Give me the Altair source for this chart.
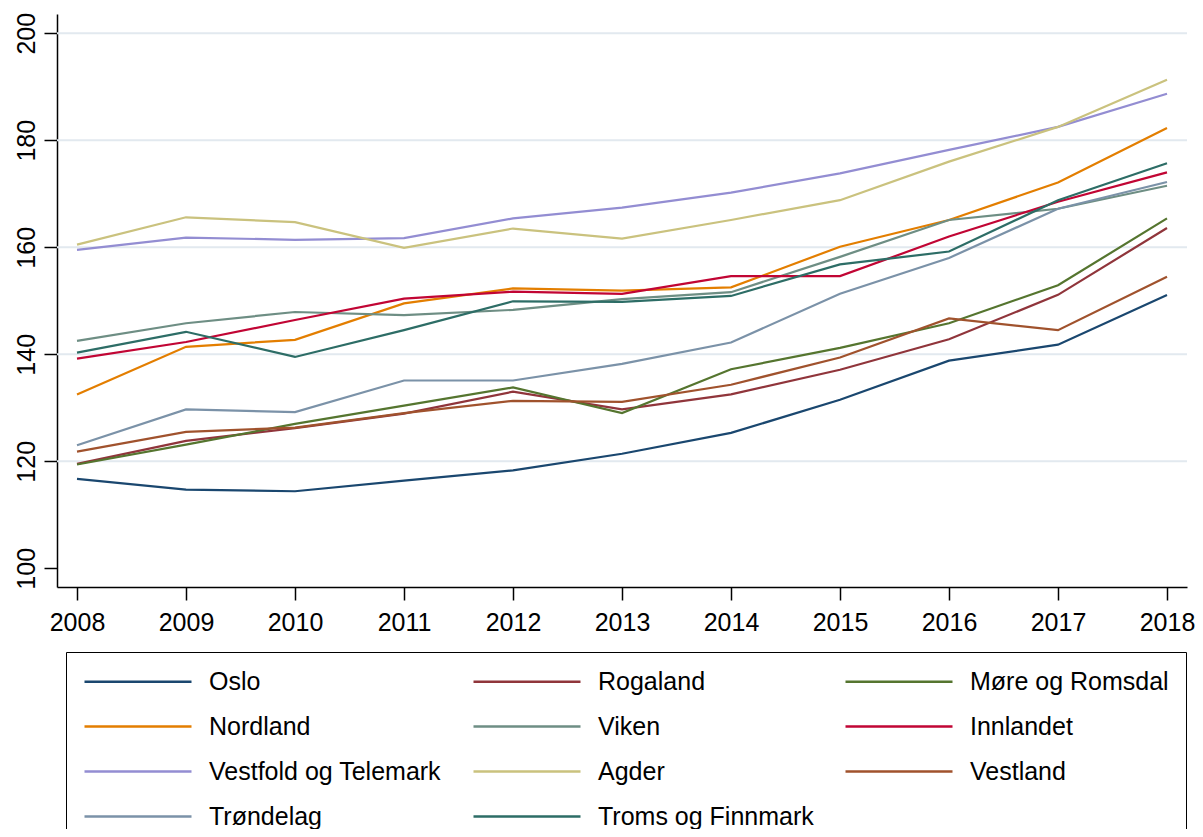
import altair as alt
import pandas as pd

years = [2008, 2009, 2010, 2011, 2012, 2013, 2014, 2015, 2016, 2017, 2018]

regions = ["Oslo", "Rogaland", "Møre og Romsdal", "Nordland", "Viken", "Innlandet",
           "Vestfold og Telemark", "Agder", "Vestland", "Trøndelag", "Troms og Finnmark"]

colors = ["#1a476f", "#90353b", "#55752f", "#e37e00", "#6e8e84", "#c10534",
          "#938dd2", "#cac27e", "#a0522d", "#7b92a8", "#2d6d66"]

oslo = [116.7, 114.7, 114.4, 116.4, 118.3, 121.4, 125.3, 131.5, 138.8, 141.8, 151.1]
rogaland = [119.5, 123.8, 126.2, 128.9, 133.0, 129.7, 132.5, 137.1, 142.8, 151.1, 163.6]
more_romsdal = [119.4, 123.1, 127.0, 130.4, 133.8, 129.0, 137.2, 141.2, 145.8, 152.9, 165.4]
nordland = [132.5, 141.4, 142.7, 149.5, 152.3, 151.9, 152.5, 160.1, 165.1, 172.1, 182.3]
viken = [142.5, 145.8, 147.9, 147.3, 148.3, 150.3, 151.6, 158.2, 165.1, 167.2, 171.5]
innlandet = [139.2, 142.3, 146.4, 150.4, 151.7, 151.3, 154.6, 154.6, 162.0, 168.5, 174.0]
vestfold_telemark = [159.5, 161.8, 161.4, 161.7, 165.4, 167.4, 170.2, 173.8, 178.2, 182.5, 188.7]
agder = [160.5, 165.6, 164.7, 159.9, 163.5, 161.6, 165.1, 168.8, 176.0, 182.5, 191.3]
vestland = [121.8, 125.5, 126.3, 129.0, 131.3, 131.1, 134.3, 139.4, 146.7, 144.5, 154.5]
trondelag = [123.0, 129.7, 129.2, 135.1, 135.1, 138.2, 142.2, 151.3, 158.0, 167.2, 172.2]
troms_finnmark = [140.3, 144.2, 139.5, 144.5, 149.9, 149.8, 150.9, 156.8, 159.2, 168.8, 175.7]

series = [oslo, rogaland, more_romsdal, nordland, viken, innlandet,
          vestfold_telemark, agder, vestland, trondelag, troms_finnmark]

y_ticks = [100, 120, 140, 160, 180, 200]
grid_vals = [120, 140, 160, 180, 200]

rows = []
for name, vals in zip(regions, series):
    for yr, v in zip(years, vals):
        rows.append({"region": name, "year": yr, "value": v})
df = pd.DataFrame(rows)

FONT = "Liberation Sans"
FS = 25

xscale = alt.Scale(domain=[2007.8165, 2018.1835], nice=False, zero=False)
yscale = alt.Scale(domain=[96.5, 203.6], nice=False, zero=False)

yaxis = alt.Axis(values=y_ticks, title=None, grid=False,
                 tickSize=13, labelPadding=5, labelFontSize=FS,
                 labelFont=FONT, labelColor="black", labelAngle=270,
                 labelAlign="center", labelBaseline="bottom",
                 domainColor="black", tickColor="black",
                 domainWidth=1.5, tickWidth=1.5, labelFlush=False,
                 labelOverlap=False)

grid = alt.Chart(pd.DataFrame({"value": grid_vals})).mark_rule(
    color="#e2e9ef", strokeWidth=2
).encode(y=alt.Y("value:Q", scale=yscale, axis=yaxis))

lines = alt.Chart(df).mark_line(strokeWidth=2.2).encode(
    x=alt.X("year:Q", scale=xscale,
            axis=alt.Axis(values=years, format="d", title=None, grid=False,
                          tickSize=13, labelPadding=10, labelFontSize=FS,
                          labelFont=FONT, labelColor="black", domainColor="black",
                          tickColor="black", domainWidth=1.5, tickWidth=1.5,
                          labelFlush=False, labelOverlap=False)),
    y=alt.Y("value:Q", scale=yscale, axis=yaxis),
    color=alt.Color("region:N", sort=regions,
                    scale=alt.Scale(domain=regions, range=colors),
                    legend=alt.Legend(title=None, orient="none", legendX=9, legendY=638,
                                      direction="horizontal", columns=3,
                                      symbolType="stroke", symbolSize=11449,
                                      symbolStrokeWidth=2.5, labelFontSize=FS,
                                      labelFont=FONT, labelColor="black",
                                      labelOffset=16, rowPadding=19, columnPadding=30,
                                      clipHeight=25, padding=17,
                                      strokeColor="black", labelLimit=400)),
    order=alt.Order("year:Q"),
)

chart = alt.layer(grid, lines).properties(
    width=1130, height=573,
    padding={"left": 49, "top": 6, "right": 8, "bottom": 242},
    autosize=alt.AutoSizeParams(type="none"),
    background="white",
).configure_view(stroke=None)

chart.save("out.html", embed_options={"renderer": "svg", "actions": False})
